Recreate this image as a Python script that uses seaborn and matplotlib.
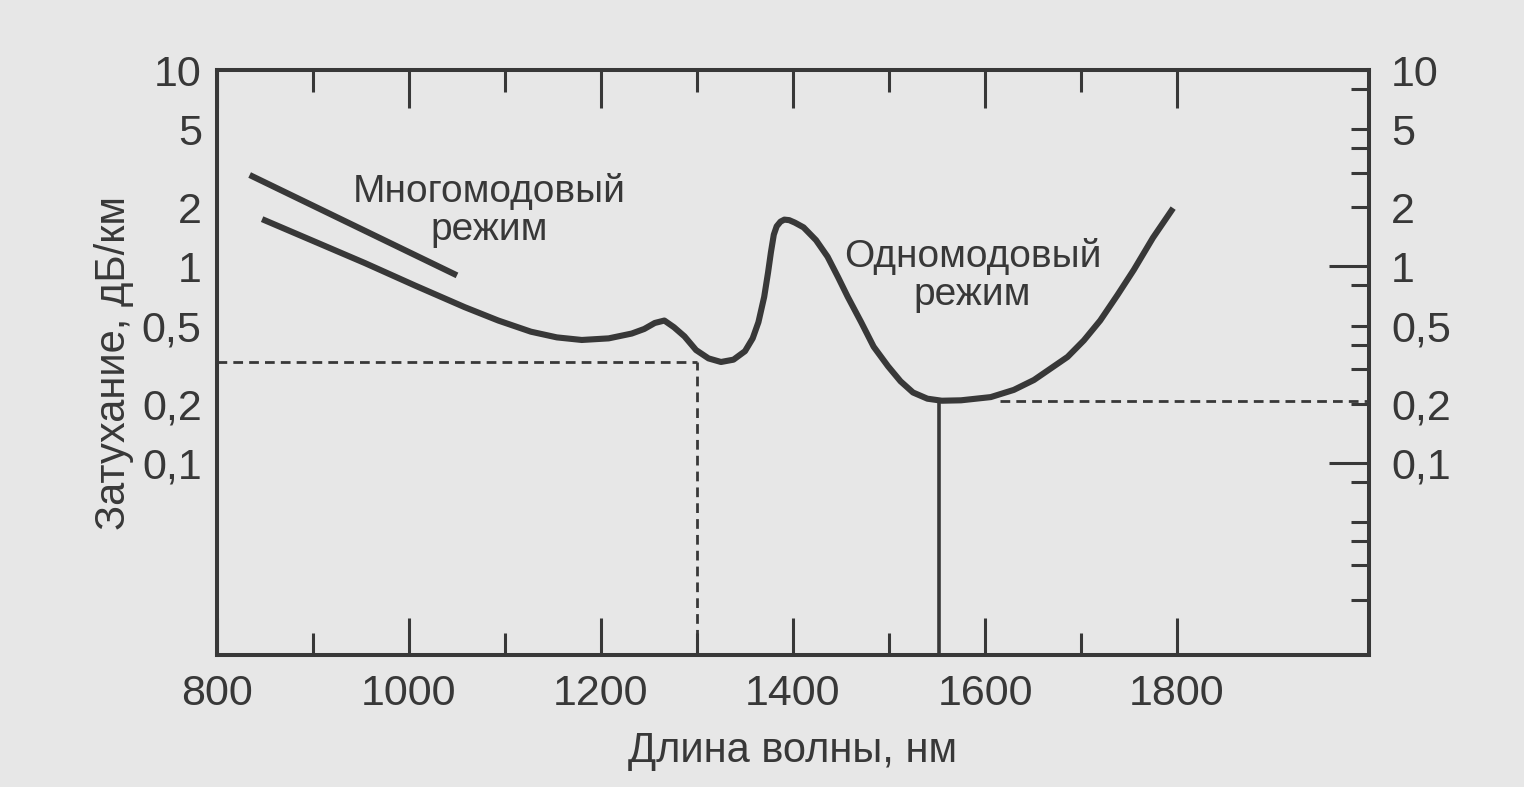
import pandas as pd
import seaborn as sns
import matplotlib.pyplot as plt
from matplotlib.ticker import FixedLocator, NullFormatter, NullLocator

# --- values ---
# multimode regime: short straight segment
mm_wavelength = [834, 1050]
mm_loss = [2.92, 0.90]

# single-mode fibre attenuation curve (nm, dB/km)
sm_wavelength = [847, 954, 1006, 1058, 1093, 1127, 1154, 1180, 1208, 1232,
                 1245, 1256, 1266, 1276, 1287, 1299, 1312, 1325, 1338, 1350,
                 1358, 1364, 1370, 1374, 1377, 1380, 1383, 1387, 1391, 1396,
                 1402, 1411, 1424, 1436, 1447, 1457, 1471, 1484, 1499, 1512,
                 1525, 1540, 1555, 1575, 1606, 1630, 1651, 1686, 1703, 1720,
                 1738, 1755, 1775, 1796]
sm_loss = [1.74, 1.04, 0.80, 0.62, 0.53, 0.465, 0.435, 0.422, 0.43, 0.455,
           0.48, 0.515, 0.53, 0.49, 0.44, 0.375, 0.34, 0.326, 0.335, 0.37,
           0.43, 0.52, 0.70, 0.93, 1.18, 1.45, 1.60, 1.69, 1.73, 1.72,
           1.67, 1.58, 1.36, 1.12, 0.88, 0.70, 0.52, 0.39, 0.31, 0.26,
           0.228, 0.212, 0.207, 0.208, 0.216, 0.235, 0.264, 0.346, 0.42, 0.53,
           0.715, 0.96, 1.40, 1.98]

# transmission windows (wavelength, loss)
window_1300 = (1300, 0.327)
window_1550 = (1552, 0.207)
dash_1550_start = 1616

x_ticks = [800, 1000, 1200, 1400, 1600, 1800]
x_minor = [900, 1100, 1300, 1500, 1700]
y_ticks = [0.1, 0.2, 0.5, 1, 2, 5, 10]
y_ticklabels = ["0,1", "0,2", "0,5", "1", "2", "5", "10"]
y_minor = [0.02, 0.03, 0.04, 0.05, 0.08, 0.3, 0.4, 0.8, 3, 4, 8]
y_long = [0.1, 1]

xlim = (800, 2000)
ylim = (0.0105, 10)

bg = "#e7e7e7"
ink = "#383838"

sns.set_theme(style="white")
plt.rcParams["font.family"] = ["Liberation Sans", "DejaVu Sans"]
plt.rcParams["text.color"] = ink
plt.rcParams["axes.labelcolor"] = ink

fig = plt.figure(figsize=(15.24, 7.87), dpi=100, facecolor=bg)
ax = fig.add_axes([217 / 1524, 1 - 655 / 787, 1152 / 1524, 585 / 787])
ax.set_facecolor(bg)

sm = pd.DataFrame({"wavelength": sm_wavelength, "loss": sm_loss})
mm = pd.DataFrame({"wavelength": mm_wavelength, "loss": mm_loss})
sns.lineplot(data=sm, x="wavelength", y="loss", ax=ax, color=ink, lw=4.4,
             estimator=None, zorder=5, solid_capstyle="butt",
             solid_joinstyle="round")
sns.lineplot(data=mm, x="wavelength", y="loss", ax=ax, color=ink, lw=4.4,
             estimator=None, zorder=5, solid_capstyle="butt")

ax.set_yscale("log")
ax.set_xlim(*xlim)
ax.set_ylim(*ylim)

# window markers
dash = dict(color=ink, lw=2.0, dashes=(3.5, 2.2))
ax.plot([xlim[0], window_1300[0]], [window_1300[1]] * 2, **dash)
ax.plot([window_1300[0]] * 2, [ylim[0], window_1300[1]], **dash)
ax.plot([dash_1550_start, xlim[1]], [window_1550[1]] * 2, **dash)
ax.plot([window_1550[0]] * 2, [ylim[0], window_1550[1]], color=ink, lw=2.6)

ax.text(1084, 1.93, "Многомодовый\nрежим", ha="center", va="center",
        fontsize=28, linespacing=1.08, color=ink)
ax.text(1587, 0.90, "Одномодовый\nрежим", ha="center", va="center",
        fontsize=28, linespacing=1.08, color=ink)

ax.set_xlabel("Длина волны, нм", fontsize=30, labelpad=12)
ax.set_ylabel("Затухание, дБ/км", fontsize=30, labelpad=6)

for s in ax.spines.values():
    s.set_linewidth(2.9)
    s.set_color(ink)
    s.set_visible(True)

ax.set_xticks(x_ticks)
ax.set_xticklabels([str(v) for v in x_ticks])
ax.xaxis.set_minor_locator(FixedLocator(x_minor))
ax.tick_params(axis="x", which="both", direction="in", top=True, bottom=True,
               width=2.2, color=ink, labelsize=31, labelcolor=ink, pad=14)
ax.tick_params(axis="x", which="major", length=27)
ax.tick_params(axis="x", which="minor", length=16)

ax.set_yticks(y_ticks)
ax.set_yticklabels(y_ticklabels)
ax.yaxis.set_minor_locator(NullLocator())
ax.tick_params(axis="y", which="both", direction="in", left=False, right=False,
               length=0, labelsize=31, labelcolor=ink, pad=11)

# right-hand scale with ticks
twin = ax.twinx()
twin.set_yscale("log")
twin.set_ylim(*ylim)
twin.set_yticks(y_ticks)
twin.set_yticklabels(y_ticklabels)
twin.yaxis.set_minor_locator(FixedLocator(y_minor))
twin.yaxis.set_minor_formatter(NullFormatter())
twin.tick_params(axis="y", which="both", direction="in", right=True,
                 length=13, width=2.2, color=ink, labelsize=31,
                 labelcolor=ink, pad=16)
for s in twin.spines.values():
    s.set_visible(False)
for tick, v in zip(twin.yaxis.get_major_ticks(), y_ticks):
    if v in y_long:
        tick.tick2line.set_markersize(29)

fig.savefig("out.png", dpi=100, facecolor=bg)
